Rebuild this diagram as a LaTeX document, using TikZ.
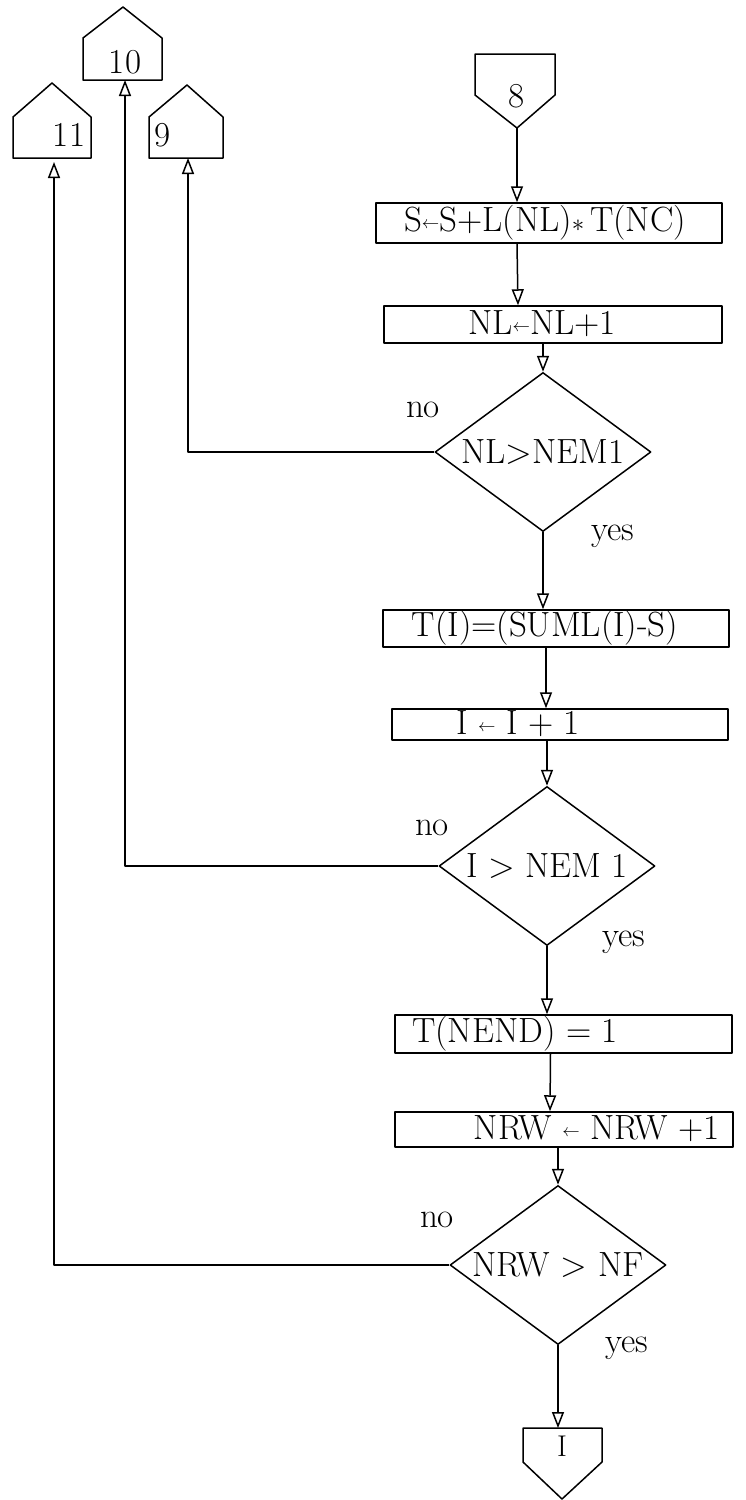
\documentclass[tikz,border=0pt]{standalone}
\usepackage{graphicx}
\usetikzlibrary{arrows.meta,shapes.geometric}
\newcommand{\lar}{\raisebox{0.1em}{\scalebox{0.7}{$\leftarrow$}}}
\begin{document}
\begin{tikzpicture}[x=1pt,y=-1pt,
  ln/.style={line width=1.5pt, line join=round},
  arr/.style={ln, -{Triangle[open,length=16pt,width=12pt,line width=1.5pt]}},
  txt/.style={font=\fontsize{35}{40}\selectfont, inner sep=0pt},
  lbl/.style={font=\fontsize{35}{40}\selectfont, inner sep=0pt},
  boxnode/.style={draw, ln, rectangle, inner sep=0pt},
  dianode/.style={draw, ln, diamond, shape aspect=1.35, inner sep=0pt,
    minimum width=216pt, minimum height=159pt, font=\fontsize{35}{40}\selectfont}]
\useasboundingbox (0,0) rectangle (745,1500);
\fill[white] (0,0) rectangle (745,1500);

% off-page connectors at top
\draw[ln] (475,54) -- (555,54) -- (555,95) -- (517,128) -- (475,95) -- cycle;
\node[txt] (n8) at (517,96) {8};
\coordinate (c8b) at (517,128);

\draw[ln] (83,80) -- (83,38) -- (123,7) -- (162,38) -- (162,80) -- cycle;
\node[txt] (n10) at (125,62) {10};
\coordinate (h10b) at (125,80);

\draw[ln] (13,158) -- (13,117) -- (52,83) -- (91,117) -- (91,158) -- cycle;
\node[txt] (n11) at (69,135) {11};
\coordinate (h11b) at (54,162);

\draw[ln] (149,158) -- (149,117) -- (187,85) -- (223,117) -- (223,158) -- cycle;
\node[txt] (n9) at (163,135) {9};
\coordinate (h9b) at (188,158);

% process boxes
\node[boxnode, minimum width=346pt, minimum height=40pt] (b1) at (549,223) {};
\node[txt] (t1) at (545,223) {S\lar S+L(NL)$\ast$\,T(NC)};

\node[boxnode, minimum width=338pt, minimum height=37pt] (b2) at (553,324.5) {};
\node[txt] (t2) at (542,324) {NL\lar NL+1};

\node[dianode] (d1) at (543,452) {NL>NEM1};

\node[boxnode, minimum width=346pt, minimum height=37pt] (b3) at (556,628.5) {};
\node[txt] (t3) at (545,628) {T(I)=(SUML(I)-S)};

\node[boxnode, minimum width=336pt, minimum height=31pt] (b4) at (560,724.5) {};
\node[txt] (t4) at (518,724) {I \lar{} I + 1};

\node[dianode] (d2) at (547,866) {I > NEM 1};

\node[boxnode, minimum width=337pt, minimum height=38pt] (b5) at (563.5,1034) {};
\node[txt] (t5) at (515,1034) {T(NEND) = 1};

\node[boxnode, minimum width=338pt, minimum height=35pt] (b6) at (564,1129.5) {};
\node[txt] (t6) at (597,1129) {NRW \lar{} NRW +1};

\node[dianode] (d3) at (558,1265) {NRW > NF};

% terminal connector I
\draw[ln] (523,1428) -- (602,1428) -- (602,1462) -- (562,1499) -- (523,1462) -- cycle;
\node[txt, font=\fontsize{30}{34}\selectfont] (nI) at (562,1446) {I};
\coordinate (cIt) at (562,1428);

% labels
\node[lbl] (no1) at (423,410) {no};
\node[lbl] (no2) at (432,828) {no};
\node[lbl] (no3) at (437,1220) {no};
\node[lbl] (y1) at (613,536) {yes};
\node[lbl] (y2) at (624,942) {yes};
\node[lbl] (y3) at (627,1348) {yes};

% main flow
\draw[arr] (c8b) -- (c8b |- b1.north);
\draw[arr] ([xshift=-32pt]b1.south) -- ([xshift=-35pt]b2.north);
\draw[arr] (d1.north |- b2.south) -- (d1.north);
\draw[arr] (d1.south) -- (d1.south |- b3.north);
\draw[arr] ([xshift=-10pt]b3.south) -- ([xshift=-14pt]b4.north);
\draw[arr] (d2.north |- b4.south) -- (d2.north);
\draw[arr] (d2.south) -- (d2.south |- b5.north);
\draw[arr] ([xshift=-13pt]b5.south) -- ([xshift=-14pt]b6.north);
\draw[arr] (d3.north |- b6.south) -- (d3.north);
\draw[arr] (d3.south) -- (d3.south |- cIt);

% "no" branches
\draw[arr] (d1.west) -| (h9b);
\draw[arr, line width=2.8pt] (d2.west) -| (h10b);
\draw[arr] (d3.west) -| (h11b);
\end{tikzpicture}
\end{document}
